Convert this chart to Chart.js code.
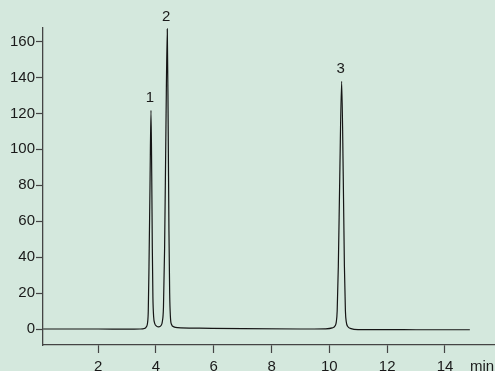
<!DOCTYPE html>
<html>
<head>
<meta charset="utf-8">
<script src="https://cdn.jsdelivr.net/npm/chart.js@4/dist/chart.umd.min.js"></script>
<style>
  html, body { margin: 0; padding: 0; background: #d4e8dd; }
  #wrap { position: relative; width: 495px; height: 371px; }
</style>
</head>
<body>
<div id="wrap"><canvas id="c"></canvas></div>
<script>
// Retention time (min) and detector signal
const timeMin = [
  0.10, 2.00, 3.00, 3.449, 3.60, 3.67, 3.71, 3.735, 3.76, 3.795, 3.829,
  3.855, 3.875, 3.895, 3.92, 3.96, 4.02, 4.10, 4.17, 4.22, 4.26, 4.30,
  4.345, 4.393, 4.425, 4.45, 4.475, 4.50, 4.54, 4.62, 4.75, 5.50, 7.00,
  9.00, 9.85, 10.10, 10.20, 10.24, 10.27, 10.31, 10.36, 10.425, 10.48,
  10.52, 10.555, 10.585, 10.63, 10.75, 11.00, 13.00, 14.86
];
const signal = [
  0.0, 0.0, -0.1, 0.0, 0.3, 1.2, 3.5, 10, 35, 80, 121.7,
  85, 45, 18, 7, 3, 1.6, 1.2, 1.8, 4, 12, 45,
  110, 167, 110, 55, 20, 7, 2.5, 1.2, 0.8, 0.5, 0.2,
  0.0, 0.1, 0.6, 1.8, 4, 10, 35, 85, 137.8, 85,
  35, 10, 4, 1.5, 0.2, -0.3, -0.4, -0.4
];
const peakNames = ['1', '2', '3'];
const peakTimes = [3.829, 4.393, 10.425];
const peakHeights = [121.7, 167, 137.8];
const xTicks = [2, 4, 6, 8, 10, 12, 14];
const yTicks = [0, 20, 40, 60, 80, 100, 120, 140, 160];
const xUnit = 'min';

const FONT = "'Liberation Sans', Arial, sans-serif";
const points = timeMin.map((t, i) => ({ x: t, y: signal[i] }));

const labelPlugin = {
  id: 'peakLabels',
  afterDraw(chart) {
    const ctx = chart.ctx;
    const xs = chart.scales.x, ys = chart.scales.y;
    ctx.save();
    ctx.fillStyle = '#1a1a1a';
    ctx.font = '15px ' + FONT;
    ctx.textAlign = 'center';
    ctx.textBaseline = 'alphabetic';
    peakNames.forEach((n, i) => {
      ctx.fillText(n, xs.getPixelForValue(peakTimes[i]) - 1, ys.getPixelForValue(peakHeights[i]) - 8);
    });
    ctx.textBaseline = 'middle';
    ctx.fillText(xUnit, 482, xs.top + 8 + 5 + 9);
    ctx.restore();
  }
};

new Chart(document.getElementById('c'), {
  type: 'line',
  data: {
    datasets: [{
      data: points,
      borderColor: '#151515',
      borderWidth: 1.2,
      pointRadius: 0,
      cubicInterpolationMode: 'monotone',
      fill: false
    }]
  },
  options: {
    responsive: true,
    maintainAspectRatio: false,
    animation: false,
    layout: { padding: { top: 28, right: 0, left: 0, bottom: 0 } },
    plugins: { legend: { display: false }, tooltip: { enabled: false } },
    scales: {
      x: {
        type: 'linear',
        min: 0.093,
        max: 15.73,
        afterBuildTicks: s => { s.ticks = xTicks.map(v => ({ value: v })); },
        afterFit: s => { s.height = 26; },
        ticks: { color: '#1a1a1a', font: { size: 15, family: FONT }, padding: 5, maxRotation: 0, autoSkip: false },
        grid: { drawOnChartArea: false, tickLength: 8, tickColor: '#444', tickWidth: 1.2 },
        border: { color: '#444', width: 1.3 }
      },
      y: {
        type: 'linear',
        min: -8.9,
        max: 167.5,
        afterBuildTicks: s => { s.ticks = yTicks.map(v => ({ value: v })); },
        afterFit: s => { s.width = 43; },
        ticks: { color: '#1a1a1a', font: { size: 15, family: FONT }, padding: 1 },
        grid: { drawOnChartArea: false, tickLength: 7, tickColor: '#444', tickWidth: 1.2 },
        border: { color: '#444', width: 1.3 }
      }
    }
  },
  plugins: [labelPlugin]
});
</script>
</body>
</html>
